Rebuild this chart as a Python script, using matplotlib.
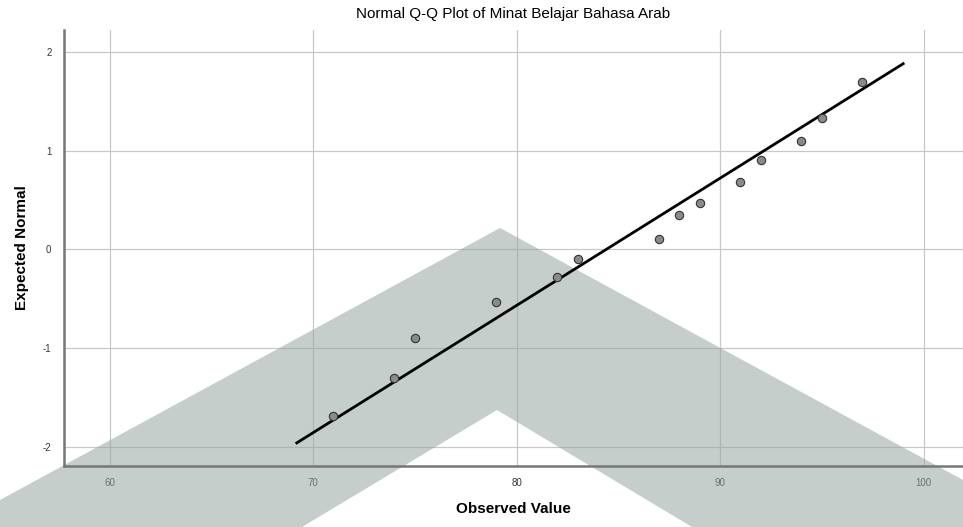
import matplotlib
matplotlib.use("Agg")
import matplotlib.pyplot as plt
from matplotlib.patches import Polygon

plt.rcParams['font.family'] = ['Liberation Sans', 'DejaVu Sans']

# ---- data ----
observed = [71, 74, 75, 79, 82, 83, 87, 88, 89, 91, 92, 94, 95, 97]
expected = [-1.68, -1.30, -0.90, -0.53, -0.28, -0.10, 0.11, 0.35, 0.47, 0.68, 0.91, 1.10, 1.33, 1.69]
line_mean = 84.4
line_sd = 7.77
line_x = [69.2, 99.0]
x_ticks = [60, 70, 80, 90, 100]
y_ticks = [-2, -1, 0, 1, 2]

W, H = 963, 527
fig = plt.figure(figsize=(W / 100, H / 100), dpi=100)
left, right, top, bottom = 64, 963, 30, 466
ax = fig.add_axes([left / W, 1 - bottom / H, (right - left) / W, (bottom - top) / H])

ax.set_xlim(57.76, 101.94)
ax.set_ylim(-2.19, 2.22)
ax.set_xticks(x_ticks)
ax.set_yticks(y_ticks)
ax.set_xticklabels([str(v) for v in x_ticks], fontsize=7, color="#333333")
ax.set_yticklabels([str(v) for v in y_ticks], fontsize=7, color="#333333")
ax.tick_params(axis="x", length=0, pad=9)
ax.tick_params(axis="y", length=0, pad=9)
ax.grid(True, color="#c8c8c8", linewidth=0.9)
ax.set_axisbelow(True)
for s in ["top", "right"]:
    ax.spines[s].set_visible(False)
for s in ["left", "bottom"]:
    ax.spines[s].set_color("#777777")
    ax.spines[s].set_linewidth(1.8)

ly = [(x - line_mean) / line_sd for x in line_x]
ax.plot(line_x, ly, color="black", linewidth=2.0, zorder=3)
ax.scatter(observed, expected, s=36, facecolor="#8a8a8a", edgecolor="#333333",
           linewidth=0.8, zorder=4)

ax.set_xlabel("Observed Value", fontsize=11, fontweight="bold", labelpad=10)
ax.set_ylabel("Expected Normal", fontsize=11, fontweight="bold", labelpad=10)
ax.set_title("Normal Q-Q Plot of Minat Belajar Bahasa Arab", fontsize=11, pad=9)

# watermark chevron (figure pixel coords, y from top)
pts = [(0, 500), (500, 228), (963, 480), (963, 527), (692, 527), (497, 410), (302, 527), (0, 527)]
poly = Polygon([(x / W, 1 - y / H) for x, y in pts], closed=True,
               transform=fig.transFigure, facecolor=(150 / 255, 166 / 255, 159 / 255),
               alpha=0.55, edgecolor="none", zorder=2, clip_on=False)
ax.add_patch(poly)

fig.savefig("out.png", dpi=100)
